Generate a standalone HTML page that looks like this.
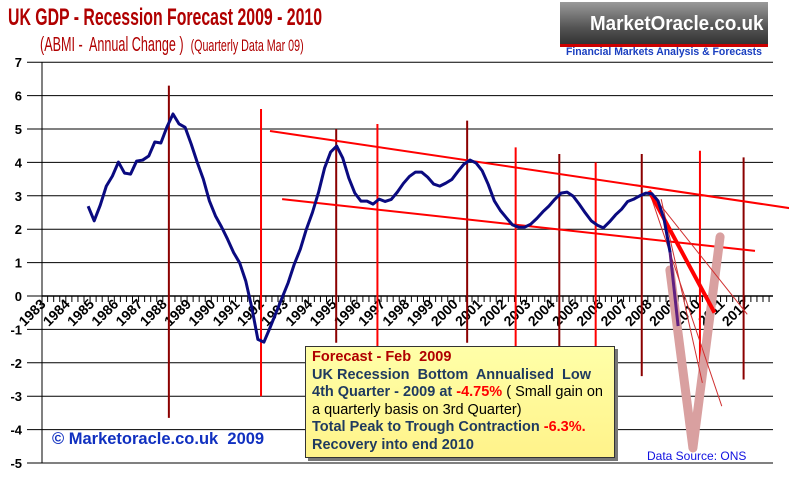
<!DOCTYPE html>
<html><head><meta charset="utf-8"><style>
body{margin:0;background:#fff;}
#wrap{position:relative;width:789px;height:479px;overflow:hidden;font-family:"Liberation Sans",sans-serif;}
.t{position:absolute;white-space:nowrap;}
</style></head><body>
<div id="wrap">
<div class="t" style="left:8px;top:4px;font:bold 24px 'Liberation Sans',sans-serif;color:#b00000;transform:scaleX(0.66);transform-origin:0 0;">UK GDP - Recession Forecast 2009 - 2010</div>
<div class="t" style="left:40px;top:34px;font:20px 'Liberation Sans',sans-serif;color:#b00000;transform:scaleX(0.63);transform-origin:0 0;">(ABMI -&nbsp; Annual Change )&nbsp; <span style="font-size:17px">(Quarterly Data Mar 09)</span></div>
<div style="position:absolute;left:560px;top:2px;width:208px;height:42px;background:linear-gradient(#9a9a9a,#555 60%,#333);border-bottom:3px solid #c00;">
<div class="t" style="left:30px;top:11px;font:bold 20px 'Liberation Sans',sans-serif;color:#fff;transform:scaleX(0.94);transform-origin:0 0;">MarketOracle.co.uk</div>
</div>
<div class="t" style="left:566px;top:46px;font:bold 11px 'Liberation Sans',sans-serif;color:#1a3fc0;transform:scaleX(0.95);transform-origin:0 0;">Financial Markets Analysis &amp; Forecasts</div>
<svg id="svg" width="789" height="479" style="position:absolute;left:0;top:0"></svg>
<div style="position:absolute;left:305px;top:346px;width:310px;height:112px;background:linear-gradient(#ffffa8,#fff38a);border:1px solid #333;box-shadow:3px 3px 0 #777;font:bold 14.5px 'Liberation Sans',sans-serif;color:#1f3a5f;line-height:17.6px;padding:2px 0 0 6px;box-sizing:border-box;">
<div style="color:#b00000">Forecast - Feb&nbsp; 2009</div>
<div>UK Recession&nbsp; Bottom&nbsp; Annualised&nbsp; Low</div>
<div>4th Quarter - 2009 at <span style="color:#f00">-4.75%</span> <span style="font-weight:normal;color:#000">( Small gain on</span></div>
<div style="font-weight:normal;color:#000">a quarterly basis on 3rd Quarter)</div>
<div>Total Peak to Trough Contraction <span style="color:#f00">-6.3%.</span></div>
<div>Recovery into end 2010</div>
</div>
<div class="t" style="left:52px;top:430px;font:bold 16.5px 'Liberation Sans',sans-serif;color:#1030c0;">© Marketoracle.co.uk&nbsp; 2009</div>
<div class="t" style="left:647px;top:449px;font:12px 'Liberation Sans',sans-serif;color:#1010e0;">Data Source: ONS</div>
</div>
<script>
const yTicks=[7,6,5,4,3,2,1,0,-1,-2,-3,-4,-5];
const years=[1983,1984,1985,1986,1987,1988,1989,1990,1991,1992,1993,1994,1995,1996,1997,1998,1999,2000,2001,2002,2003,2004,2005,2006,2007,2008,2009,2010,2011,2012];
const gdpStart=1985.17;
const gdp=[2.69,2.25,2.72,3.29,3.59,4.01,3.68,3.65,4.04,4.07,4.19,4.61,4.58,5.06,5.45,5.15,5.05,4.55,4.0,3.5,2.85,2.4,2.07,1.7,1.3,0.99,0.45,-0.35,-1.3,-1.38,-0.95,-0.5,-0.05,0.4,0.95,1.4,2.0,2.5,3.1,3.83,4.31,4.49,4.13,3.53,3.08,2.84,2.84,2.75,
2.90,2.83,2.89,3.11,3.37,3.58,3.71,3.71,3.56,3.35,3.29,3.38,3.49,3.73,3.95,4.07,3.98,3.75,3.34,2.85,2.56,2.34,2.13,2.06,2.06,2.15,2.32,2.52,2.69,2.90,3.08,3.11,2.99,2.75,2.49,2.25,2.12,2.04,2.22,2.43,2.60,2.83,2.90,3.0,3.08,3.06,2.85,2.3,1.3];
const markerYears=[1988.5,1992.3,1995.4,1997.1,2000.8,2002.8,2004.6,2006.1,2008.0,2010.4,2012.2];
const markerTop=[6.3,5.6,5.0,5.15,5.25,4.45,4.25,4.0,4.25,4.35,4.15];
const markerBottom=[-3.65,-3.0,-1.4,-1.5,-1.4,-1.5,-1.5,-1.5,-2.4,-2.3,-2.5];
const markerDark=[1,0,1,0,1,0,1,0,1,0,1];
const trendUpperX=[1992.67,2014.1];
const trendUpperY=[4.94,2.63];
const trendLowerX=[1993.17,2012.67];
const trendLowerY=[2.9,1.35];
const forecastMainX=[2008.3,2011.0];
const forecastMainY=[3.15,-0.5];
const forecastThinX=[[2008.3,2011.3],[2008.3,2012.35],[2008.8,2010.5]];
const forecastThinY=[[3.15,-3.3],[3.15,-0.55],[2.9,-2.6]];
const vShapeX=[2009.16,2010.11,2011.23];
const vShapeY=[0.78,-4.55,1.77];
const purpleX=[2009.17,2009.5];
const purpleY=[1.3,-0.9];

const NS='http://www.w3.org/2000/svg';
const svg=document.getElementById('svg');
const X=y=>84+(y-1985)*24.25;
const Y=v=>296-v*33.4;
function mk(tag,attrs){const e=document.createElementNS(NS,tag);for(const k in attrs)e.setAttribute(k,attrs[k]);svg.appendChild(e);return e;}

yTicks.forEach(v=>{
  const g=mk('line',{x1:27,x2:773,y1:Y(v),y2:Y(v),stroke:'#000','stroke-width':1});
  
  
  const t=mk('text',{x:22,y:Y(v)+5,'text-anchor':'end','font-family':'Liberation Sans, sans-serif','font-size':13,'font-weight':'bold',fill:'#000'});
  t.textContent=v;
  
  
});
const ya=mk('line',{x1:42,x2:42,y1:Y(7),y2:Y(-5),stroke:'#000','stroke-width':1});


for(let q=years[0]*4+1;q<=(years[years.length-1]+1)*4+1;q++){
  const x=X(q/4);
  if(x<42||x>773)continue;
  const tk=mk('line',{x1:x,x2:x,y1:Y(0),y2:Y(0)+6,stroke:'#000','stroke-width':1});
  
  
}
const xa=mk('line',{x1:42,x2:773,y1:Y(0),y2:Y(0),stroke:'#000','stroke-width':1.5});


years.forEach(yr=>{
  const x=X(yr)+11,y=Y(0)+9;
  const t=mk('text',{x:x,y:y,'text-anchor':'end',transform:`rotate(-45 ${x} ${y})`,'font-family':'Liberation Sans, sans-serif','font-size':14,'font-weight':'bold',fill:'#000'});
  t.textContent=yr;
  
  
});
markerYears.forEach((yr,i)=>{
  const l=mk('line',{x1:X(yr),x2:X(yr),y1:Y(markerTop[i]),y2:Y(markerBottom[i]),stroke:markerDark[i]?'#8b0000':'#ff0000','stroke-width':2});
  
  
});
function line2(xs,ys,attrs,name){
  const e=mk('line',Object.assign({x1:X(xs[0]),y1:Y(ys[0]),x2:X(xs[1]),y2:Y(ys[1])},attrs));
  
  
}
line2(trendUpperX,trendUpperY,{stroke:'#f00','stroke-width':2},'upper-trend-line');
line2(trendLowerX,trendLowerY,{stroke:'#f00','stroke-width':2},'lower-trend-line');
const vp=mk('polyline',{points:vShapeX.map((x,i)=>X(x)+','+Y(vShapeY[i])).join(' '),fill:'none',stroke:'#d9a0a0','stroke-width':9,'stroke-linecap':'round','stroke-linejoin':'round'});


forecastThinX.forEach((xs,i)=>line2(xs,forecastThinY[i],{stroke:'#d03030','stroke-width':1},'forecast-thin-line'));
line2(forecastMainX,forecastMainY,{stroke:'#f00','stroke-width':4},'forecast-main-line');
const pts=gdp.map((v,i)=>X(gdpStart+i*0.25)+','+Y(v)).join(' ');
const gl=mk('polyline',{points:pts,fill:'none',stroke:'#0a0a80','stroke-width':3,'stroke-linejoin':'round'});


line2(purpleX,purpleY,{stroke:'#602080','stroke-width':3},'gdp-latest-segment');
</script>
</body></html>
